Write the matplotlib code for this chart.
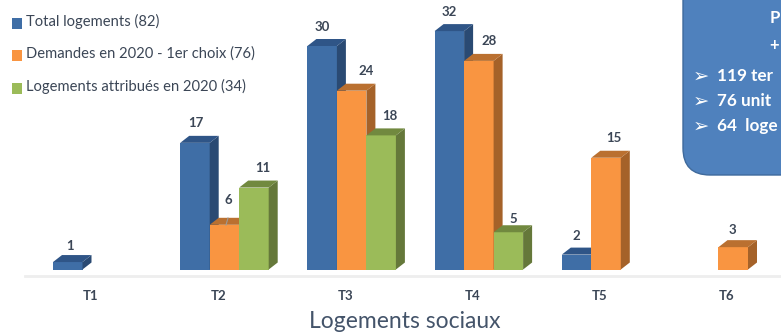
import matplotlib
matplotlib.use('Agg')
import matplotlib.pyplot as plt
from matplotlib.patches import FancyBboxPatch, Polygon, Rectangle

plt.rcParams['font.family'] = ['Lato', 'DejaVu Sans']

categories = ['T1', 'T2', 'T3', 'T4', 'T5', 'T6']
total_logements = [1, 17, 30, 32, 2, 0]
demandes_2020 = [0, 6, 24, 28, 15, 3]
attribues_2020 = [0, 11, 18, 5, 0, 0]

legend_labels = ['Total logements (82)', 'Demandes en 2020 - 1er choix (76)',
                 'Logements attribués en 2020 (34)']
box_lines = ['119 ter', '76 unit', '64  loge']

W, H = 781, 333
PITCH = 127.2   # pixels between two categories
UNIT = 7.45     # pixels for one logement
BASE = 269.5    # pixel row of the zero line
FIRST = 91      # pixel column of T1

BAR_W = 29.5 / PITCH
DX = 9 / PITCH
DY = 7 / UNIT

# (front, side, top)
BLUE = ('#3F6EA6', '#2A4A73', '#2F5587')
ORANGE = ('#F99541', '#A56229', '#BA7030')
GREEN = ('#9BBB59', '#65783A', '#71893F')
TEXT = '#3B4656'

# label shifts in pixels (right, up), per series and category
label_shift = {
    (0, 0): (2, -3), (0, 1): (1, 0), (0, 4): (0, -1),
    (1, 1): (4, 5), (1, 2): (15, 0), (1, 3): (10, 0), (1, 4): (8, 0), (1, 5): (-1, -2),
    (2, 1): (9, 0), (2, 2): (9, 0), (2, 3): (5, -6),
}

fig = plt.figure(figsize=(W / 100, H / 100), dpi=100)

# data axes fill the figure, so that one value maps to UNIT pixels
ax = fig.add_axes([0, 0, 1, 1])
ax.set_xlim(-FIRST / PITCH, (W - FIRST) / PITCH)
ax.set_ylim(-(H - BASE) / UNIT, BASE / UNIT)
ax.axis('off')

# pixel axes for the legend, the box and the other layout pieces
page = fig.add_axes([0, 0, 1, 1], facecolor='none')
page.set_xlim(0, W)
page.set_ylim(H, 0)
page.axis('off')


def bar3d(x, value, colors, shift):
    front, side, top = colors
    ax.bar(x, value, BAR_W, align='edge', color=front, linewidth=0, zorder=3)
    ax.add_patch(Polygon([(x + BAR_W, 0), (x + BAR_W + DX, DY), (x + BAR_W + DX, value + DY),
                          (x + BAR_W, value)], closed=True, fc=side, lw=0, zorder=3))
    ax.add_patch(Polygon([(x, value), (x + DX, value + DY), (x + BAR_W + DX, value + DY),
                          (x + BAR_W, value)], closed=True, fc=top, lw=0, zorder=3))
    ax.text(x + BAR_W / 2 + shift[0] / PITCH, value + (19.5 + shift[1]) / UNIT, str(value),
            ha='center', va='center', fontsize=9.5, fontweight='bold', color=TEXT, zorder=5)


# series drawn left to right: each front covers the side of its neighbour
for s, (values, colors) in enumerate(zip([total_logements, demandes_2020, attribues_2020],
                                         [BLUE, ORANGE, GREEN])):
    for i, v in enumerate(values):
        if v == 0:
            continue
        bar3d(i - 38 / PITCH + s * BAR_W, v, colors, label_shift.get((s, i), (0, 0)))

for i, name in enumerate(categories):
    ax.text(i, -(296 - BASE) / UNIT, name, ha='center', va='center', fontsize=9.5,
            fontweight='bold', color=TEXT)

# leader line of the T2 demand label
page.plot([228, 226], [218, 225], color='#9A9A9A', lw=0.8, zorder=5)

page.plot([25, W], [276, 276], color='#EEEEEE', lw=2, zorder=1)

page.text(405, 322, 'Logements sociaux', ha='center', va='center', fontsize=16.5,
          color='#44546A')

for y, name, colors in zip([23.5, 55.5, 88.5], legend_labels, [BLUE, ORANGE, GREEN]):
    page.add_patch(Rectangle((11.5, y - 5.5), 10.5, 11, fc=colors[0], lw=0))
    page.text(26, y - 2, name, ha='left', va='center', fontsize=10.6, color=TEXT)

# rounded box, running off the top and right edges
page.add_patch(FancyBboxPatch((683, -30), 150, 205, boxstyle='round,pad=0,rounding_size=27',
                              fc='#4F81BD', ec='#3F6A9C', lw=1, zorder=2))
page.text(775, 18, 'P', ha='center', va='center', fontsize=12, fontweight='bold',
          color='white', zorder=4)
page.text(779, 45, '+', ha='right', va='center', fontsize=12, fontweight='bold',
          color='white', zorder=4)
for y, line in zip([76, 101, 126], box_lines):
    page.text(701, y, '➢', ha='center', va='center', fontsize=14, color='white', zorder=4)
    page.text(717, y, line, ha='left', va='center', fontsize=12.3, fontweight='bold',
              color='white', zorder=4)

fig.savefig('out.png', dpi=100)
